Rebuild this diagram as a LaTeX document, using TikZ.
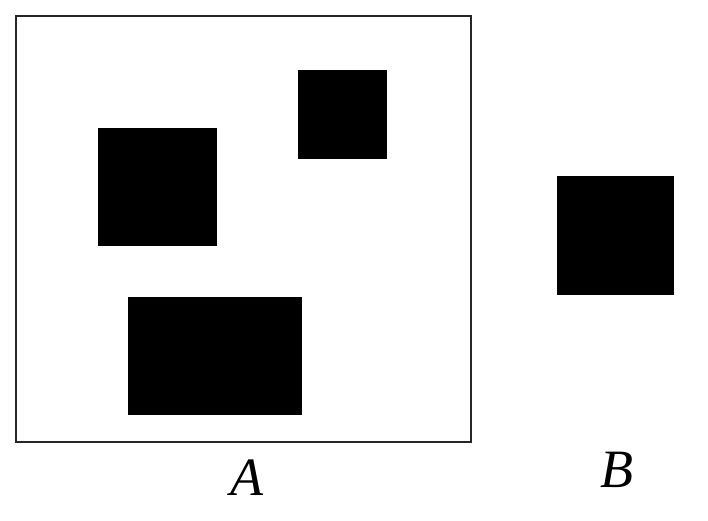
\documentclass[tikz,border=0pt]{standalone}
\usepackage{fontspec}
\newfontfamily\lblfont{Liberation Serif}
\usetikzlibrary{positioning}
\begin{document}
\begin{tikzpicture}[x=1pt, y=-1pt,
    frame/.style={draw, line width=1.8pt, draw=black!85, inner sep=0pt, minimum width=455pt, minimum height=426pt},
    blk/.style={fill=black, inner sep=0pt},
    lbl/.style={font=\lblfont\itshape\fontsize{54}{60}\selectfont},
  ]
  \useasboundingbox (0,0) rectangle (708,520);
  % Set A
  \node[frame] (setA) at (243.5,229) {};
  \node[blk, minimum width=119pt, minimum height=118pt] (left) at (157.5,187) {};
  \node[blk, minimum width=89pt, minimum height=89pt] (top) at (342.5,114.5) {};
  \node[blk, minimum width=174pt, minimum height=118pt] (bottom) at (215,356) {};
  % Set B
  \node[blk, minimum width=117pt, minimum height=119pt] (setB) at (615.5,235.5) {};
  % Labels
  \node[lbl] (labA) at (247,478) {A};
  \node[lbl] (labB) at (617,470) {B};
\end{tikzpicture}
\end{document}
